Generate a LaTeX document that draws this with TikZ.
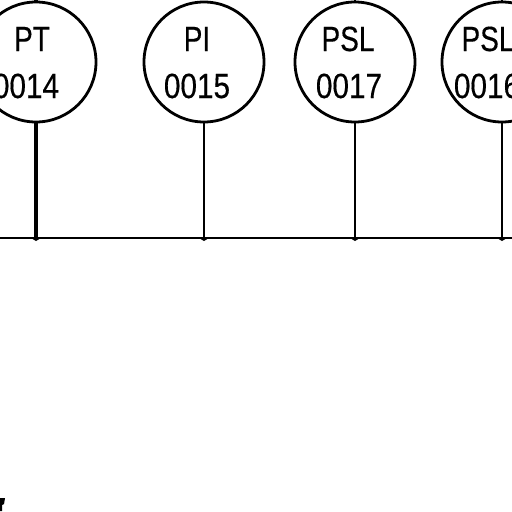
\documentclass[tikz,border=0pt]{standalone}
\usepackage{fontspec}
\setmainfont{Liberation Sans}[FakeBold=0.35]
\tikzset{
  tag/.style={circle,draw=black,line width=2.8pt,minimum size=120pt,inner sep=0pt,outer sep=0pt},
  lbl/.style={inner sep=0pt,outer sep=0pt,font=\fontsize{35}{35}\selectfont,xscale=.8,transform shape,anchor=base,text=black},
  num/.style={lbl,xscale=1.0625},
  wire/.style={draw=black,line width=2pt},
  bump/.style={fill=black,draw=none},
}
\begin{document}
\begin{tikzpicture}[x=1pt,y=-1pt]
\useasboundingbox (0,0) rectangle (512,512);
\clip (0,0) rectangle (512,512);
\coordinate (busL) at (0,238);
\coordinate (busR) at (512,238);
\node[tag] (a) at (36,62) {};
\node[tag] (b) at (204,62) {};
\node[tag] (c) at (355,62) {};
\node[tag] (d) at (502,62) {};
\node[lbl] (a1) at (32,51) {PT};
\node[num] (a2) at (26,98) {0014};
\node[lbl] (b1) at (197,51) {PI};
\node[num] (b2) at (197,98) {0015};
\node[lbl] (c1) at (348,51) {PSL};
\node[num] (c2) at (349,98) {0017};
\node[lbl] (d1) at (488,51) {PSL};
\node[num] (d2) at (487,98) {0016};
\coordinate (ja) at (36,238);
\coordinate (jb) at (204,238);
\coordinate (jc) at (355,238);
\coordinate (jd) at (502,238);
\coordinate (ta) at (36,0);
\coordinate (tc) at (355,0);
\coordinate (td) at (502,0);
\draw[wire] (busL) -- (busR);
\draw[wire,line width=3.4pt] (a.south) -- (ja);
\draw[wire,line width=2.6pt] (b.south) -- (jb);
\draw[wire] (c.south) -- (jc);
\draw[wire] (d.south) -- (jd);
\draw[wire,line width=3.4pt] (a.north) -- (ta);
\draw[wire] (c.north) -- (tc);
\draw[wire] (d.north) -- (td);
\foreach \j in {ja,jb,jc,jd}{
  \fill[bump] ([xshift=-5pt]\j) -- ([yshift=-3pt]\j) -- ([xshift=5pt]\j) -- cycle;
}
\fill[black] (0,498) -- (5,498) -- (4,504) -- (2,505) -- (2,511) -- (0,511) -- cycle;
\end{tikzpicture}
\end{document}
